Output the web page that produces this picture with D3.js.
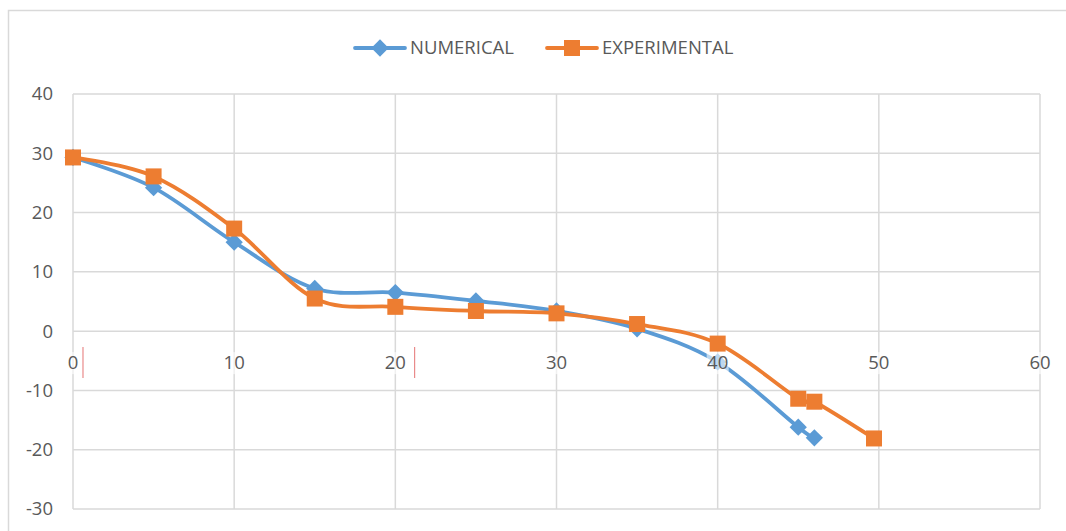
<!DOCTYPE html>
<html>
<head>
<meta charset="utf-8">
<script src="https://cdn.jsdelivr.net/npm/d3@7"></script>
<style>
  html, body { margin: 0; padding: 0; background: #fff; }
  svg { display: block; }
  text { font-family: "Open Sans", "Liberation Sans", sans-serif; fill: #595959; }
</style>
</head>
<body>
<svg id="chart" width="1066" height="531"></svg>
<script>
// Series data
const numericalX = [0, 5, 10, 15, 20, 25, 30, 35, 40, 45, 46];
const numericalY = [29.3, 24.2, 15.0, 7.2, 6.5, 5.1, 3.4, 0.4, -5.2, -16.2, -18.0];
const experimentalX = [0, 5, 10, 15, 20, 25, 30, 35, 40, 45, 46, 49.7];
const experimentalY = [29.3, 26.1, 17.3, 5.5, 4.1, 3.4, 3.0, 1.2, -2.1, -11.4, -11.9, -18.1];
const xTicks = [0, 10, 20, 30, 40, 50, 60];
const yTicks = [-30, -20, -10, 0, 10, 20, 30, 40];
const seriesNames = ["NUMERICAL", "EXPERIMENTAL"];

const blue = "#5B9BD5", orange = "#ED7D31", grid = "#d9d9d9";
const svg = d3.select("#chart");

// Outer chart frame
svg.append("rect").attr("x", 8.5).attr("y", 10.5).attr("width", 1070).attr("height", 540)
  .attr("fill", "none").attr("stroke", grid).attr("stroke-width", 1.5);

const x = d3.scaleLinear().domain([0, 60]).range([73, 1040]);
const y = d3.scaleLinear().domain([-30, 40]).range([509, 94]);

// Gridlines
const g = svg.append("g");
g.selectAll(".vg").data(xTicks).join("line")
  .attr("x1", d => x(d)).attr("x2", d => x(d)).attr("y1", y(40)).attr("y2", y(-30))
  .attr("stroke", grid).attr("stroke-width", 1.5);
g.selectAll(".hg").data(yTicks).join("line")
  .attr("x1", x(0)).attr("x2", x(60)).attr("y1", d => y(d)).attr("y2", d => y(d))
  .attr("stroke", grid).attr("stroke-width", 1.5);

// Y axis labels
svg.append("g").selectAll("text").data(yTicks).join("text")
  .attr("x", 53).attr("y", d => y(d)).attr("dy", "0.35em")
  .attr("text-anchor", "end").attr("font-size", 18.5).text(d => d);

// Series lines and markers
const line = d3.line().curve(d3.curveCardinal.tension(0)).x(d => x(d[0])).y(d => y(d[1]));
const numPts = numericalX.map((v, i) => [v, numericalY[i]]);
const expPts = experimentalX.map((v, i) => [v, experimentalY[i]]);
const diamond = d3.symbol(d3.symbolDiamond2, 190)();

svg.append("path").attr("d", line(numPts)).attr("fill", "none")
  .attr("stroke", blue).attr("stroke-width", 3.8).attr("stroke-linecap", "round");
svg.append("g").selectAll("path").data(numPts).join("path")
  .attr("d", diamond)
  .attr("transform", d => `translate(${x(d[0])},${y(d[1])})`)
  .attr("fill", blue);

svg.append("path").attr("d", line(expPts)).attr("fill", "none")
  .attr("stroke", orange).attr("stroke-width", 3.8).attr("stroke-linecap", "round");
svg.append("g").selectAll("rect").data(expPts).join("rect")
  .attr("x", d => x(d[0]) - 8).attr("y", d => y(d[1]) - 8)
  .attr("width", 16).attr("height", 16).attr("fill", orange);

// X axis labels sit just below the zero line, with a translucent backing
const xl = svg.append("g").selectAll("g").data(xTicks).join("g")
  .attr("transform", d => `translate(${x(d)},${y(0) + 38})`);
xl.append("rect").attr("x", d => d === 0 ? -6 : -11).attr("y", -17)
  .attr("width", d => d === 0 ? 12 : 22).attr("height", 22)
  .attr("fill", "#fff").attr("opacity", 0.6);
xl.append("text").attr("text-anchor", "middle").attr("font-size", 18.5).text(d => d);

// Thin red cursor marks beside two labels
svg.append("g").selectAll("line").data([0.62, 21.2]).join("line")
  .attr("x1", d => x(d)).attr("x2", d => x(d)).attr("y1", 347).attr("y2", 378)
  .attr("stroke", "#e57373").attr("stroke-width", 1);

// Legend
const legend = svg.append("g");
const items = [
  { name: seriesNames[0], color: blue, x0: 355, marker: "diamond" },
  { name: seriesNames[1], color: orange, x0: 547, marker: "square" }
];
items.forEach(it => {
  legend.append("line").attr("x1", it.x0).attr("x2", it.x0 + 50).attr("y1", 48).attr("y2", 48)
    .attr("stroke", it.color).attr("stroke-width", 3.8).attr("stroke-linecap", "round");
  if (it.marker === "diamond") {
    legend.append("path").attr("d", diamond)
      .attr("transform", `translate(${it.x0 + 25},48)`).attr("fill", it.color);
  } else {
    legend.append("rect").attr("x", it.x0 + 17).attr("y", 40).attr("width", 16).attr("height", 16)
      .attr("fill", it.color);
  }
  legend.append("text").attr("x", it.x0 + 55).attr("y", 48).attr("dy", "0.35em")
    .attr("font-size", 18.5).text(it.name);
});
</script>
</body>
</html>
